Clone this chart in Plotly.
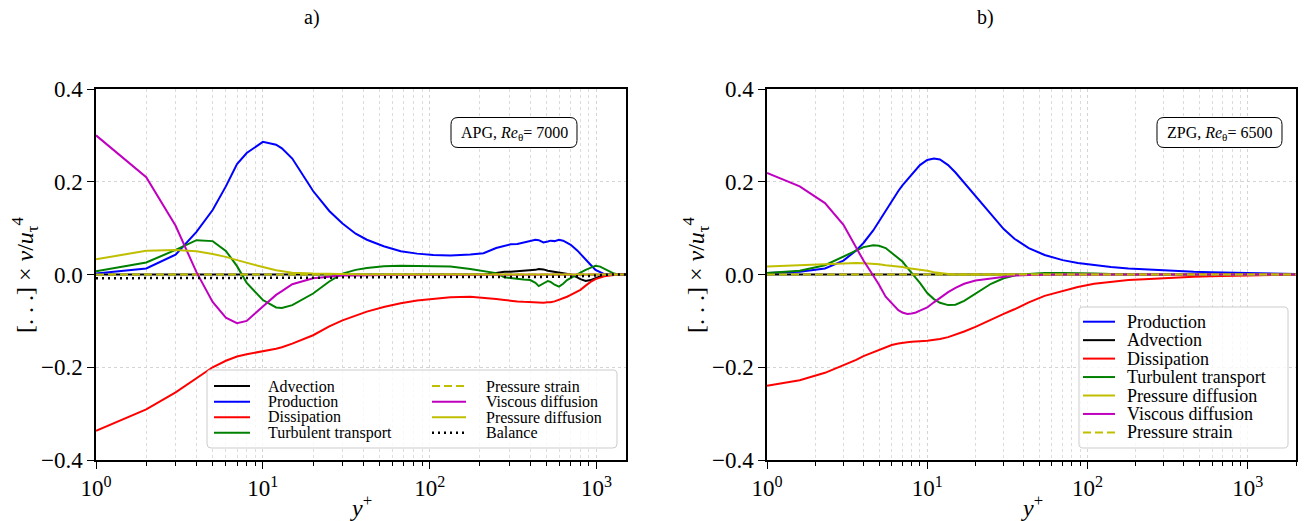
import math
import plotly.graph_objects as go

W, H = 1309, 521
FONT = "Liberation Serif"

# ---------------- APG, Re_theta = 7000 ----------------
yplus_a = [1, 2, 3, 4, 5, 6, 7, 8, 10, 12, 13, 15, 20, 25, 30, 36, 42, 53, 67, 84,
           105, 133, 175, 210, 250, 280, 305, 335, 365, 400, 430, 450, 480, 510, 530,
           560, 595, 630, 665, 700, 765, 800, 860, 920, 985, 1050, 1110, 1200, 1270,
           1350, 1500]

advection_a = [0.0, 0.0, 0.001, 0.001, 0.001, 0.001, 0.001, 0.001, 0.001, 0.001, 0.001,
               0.001, 0.001, 0.0, 0.0, 0.0, 0.0, 0.0, 0.0, 0.0,
               0.0, 0.0, 0.0, 0.0, 0.003, 0.006, 0.006, 0.007, 0.008, 0.009, 0.010,
               0.012, 0.011, 0.008, 0.007, 0.006, 0.004, 0.003, 0.001, 0.0, -0.006,
               -0.010, -0.014, -0.012, -0.008, -0.004, -0.001, 0.0, 0.0, 0.0, 0.0]

production_a = [0.002, 0.013, 0.043, 0.092, 0.139, 0.190, 0.238, 0.262, 0.286, 0.280,
                0.272, 0.250, 0.180, 0.137, 0.110, 0.088, 0.075, 0.061, 0.050, 0.045,
                0.042, 0.041, 0.043, 0.046, 0.057, 0.062, 0.065, 0.066, 0.069, 0.071,
                0.075, 0.074, 0.069, 0.071, 0.073, 0.072, 0.075, 0.073, 0.068, 0.064,
                0.052, 0.044, 0.032, 0.021, 0.010, 0.005, 0.001, 0.0, 0.0, 0.0, 0.0]

dissipation_a = [-0.337, -0.291, -0.254, -0.224, -0.200, -0.186, -0.177, -0.172, -0.166,
                 -0.160, -0.157, -0.149, -0.131, -0.112, -0.099, -0.088, -0.080, -0.070,
                 -0.062, -0.056, -0.052, -0.049, -0.048, -0.050, -0.053, -0.055, -0.057,
                 -0.058, -0.059, -0.060, -0.060, -0.061, -0.061, -0.060, -0.060, -0.058,
                 -0.055, -0.052, -0.048, -0.044, -0.037, -0.033, -0.024, -0.016, -0.010,
                 -0.006, -0.004, -0.002, -0.001, 0.0, 0.0]

turb_transport_a = [0.007, 0.026, 0.053, 0.074, 0.072, 0.051, 0.018, -0.018, -0.055,
                    -0.071, -0.072, -0.066, -0.041, -0.015, 0.002, 0.010, 0.014, 0.018,
                    0.019, 0.018, 0.018, 0.017, 0.012, 0.008, 0.003, -0.006, -0.008,
                    -0.010, -0.011, -0.012, -0.018, -0.025, -0.020, -0.014, -0.016,
                    -0.022, -0.026, -0.020, -0.012, -0.008, 0.000, 0.004, 0.010, 0.015,
                    0.019, 0.017, 0.013, 0.006, 0.002, 0.0, 0.0]

pressure_strain_a = [0.0] * 51

viscous_diff_a = [0.300, 0.210, 0.105, 0.005, -0.059, -0.093, -0.105, -0.100, -0.069,
                  -0.044, -0.036, -0.021, -0.008, -0.004, -0.002, -0.002, -0.001, -0.001,
                  -0.001, -0.001, -0.001, -0.001, -0.001, -0.001, -0.001, -0.001, -0.001,
                  -0.001, -0.001, -0.001, -0.001, -0.001, -0.001, -0.001, -0.001, -0.001,
                  -0.001, -0.001, -0.001, 0.0, 0.0, 0.0, 0.0, 0.0, 0.0, 0.0, 0.0, 0.0,
                  0.0, 0.0, 0.0]

pressure_diff_a = [0.033, 0.051, 0.053, 0.050, 0.044, 0.038, 0.031, 0.025, 0.016, 0.009,
                   0.007, 0.004, 0.002, 0.001, 0.0, 0.0, 0.0, 0.0, 0.0, 0.0,
                   0.0, 0.0, 0.0, 0.0, 0.0, 0.0, 0.0, 0.0, 0.0, 0.0, 0.0, 0.0, 0.0, 0.0,
                   0.0, 0.001, 0.001, 0.001, 0.001, 0.001, 0.001, 0.001, 0.001, 0.001,
                   0.001, 0.0, 0.0, 0.0, 0.0, 0.0, 0.0]

balance_a = [-0.008, -0.008, -0.008, -0.008, -0.008, -0.008, -0.008, -0.008, -0.007,
             -0.007, -0.007, -0.007, -0.007, -0.007, -0.006, -0.006, -0.006, -0.006,
             -0.006, -0.006, -0.005, -0.005, -0.005, -0.005, -0.005, -0.005, -0.005,
             -0.005, -0.005, -0.005, -0.005, -0.005, -0.005, -0.005, -0.005, -0.005,
             -0.005, -0.005, -0.005, -0.005, -0.004, -0.004, -0.003, -0.003, -0.002,
             -0.002, -0.001, 0.0, 0.0, 0.0, 0.0]

# ---------------- ZPG, Re_theta = 6500 ----------------
yplus_b = [1, 1.6, 2.3, 3, 3.6, 4, 4.6, 5, 5.5, 6, 6.6, 7, 7.5, 8, 8.5, 9, 10, 11, 12,
           13.5, 15, 17, 20, 25, 30, 35, 43, 54, 70, 87, 110, 140, 180, 226, 290, 363,
           460, 585, 750, 940, 1200, 1500, 2000]

production_b = [0.003, 0.006, 0.013, 0.030, 0.052, 0.068, 0.095, 0.115, 0.138, 0.158,
                0.180, 0.192, 0.204, 0.216, 0.226, 0.236, 0.247, 0.250, 0.248, 0.236,
                0.220, 0.198, 0.168, 0.130, 0.098, 0.077, 0.057, 0.042, 0.031, 0.025,
                0.020, 0.016, 0.013, 0.011, 0.009, 0.0075, 0.006, 0.005, 0.004, 0.003,
                0.002, 0.001, 0.001]

advection_b = [0.0] * 43

dissipation_b = [-0.240, -0.228, -0.212, -0.196, -0.184, -0.176, -0.168, -0.163, -0.157,
                 -0.152, -0.149, -0.147, -0.146, -0.145, -0.145, -0.144, -0.143, -0.141,
                 -0.139, -0.135, -0.130, -0.123, -0.113, -0.097, -0.085, -0.075, -0.060,
                 -0.046, -0.035, -0.027, -0.020, -0.016, -0.012, -0.010, -0.008, -0.006,
                 -0.005, -0.004, -0.003, -0.002, -0.0015, -0.001, -0.001]

turb_transport_b = [0.003, 0.008, 0.020, 0.039, 0.053, 0.059, 0.063, 0.062, 0.057, 0.047,
                    0.035, 0.028, 0.015, 0.002, -0.008, -0.018, -0.040, -0.053, -0.061,
                    -0.066, -0.065, -0.057, -0.042, -0.020, -0.008, -0.002, 0.001, 0.003,
                    0.003, 0.003, 0.002, 0.001, 0.0, 0.0, 0.0, 0.0, 0.0, 0.0, 0.0, 0.0,
                    0.0, 0.0, 0.0]

pressure_diff_b = [0.017, 0.020, 0.023, 0.025, 0.025, 0.024, 0.023, 0.022, 0.020, 0.019,
                   0.017, 0.016, 0.014, 0.013, 0.011, 0.010, 0.008, 0.005, 0.003, 0.001,
                   0.0, 0.0, 0.0, 0.0, 0.0, 0.0, 0.0, 0.0, 0.0, 0.0, 0.0, 0.0, 0.0, 0.0,
                   0.0, 0.0, 0.0, 0.0, 0.0, 0.0, 0.0, 0.0, 0.0]

viscous_diff_b = [0.219, 0.190, 0.154, 0.107, 0.058, 0.030, -0.002, -0.022, -0.048,
                  -0.063, -0.077, -0.082, -0.085, -0.084, -0.082, -0.078, -0.071, -0.060,
                  -0.050, -0.038, -0.029, -0.020, -0.013, -0.008, -0.004, -0.002, -0.001,
                  0.0, 0.0, 0.0, 0.0, 0.0, 0.0, 0.0, 0.0, 0.0, 0.0, 0.0, 0.0, 0.0, 0.0,
                  0.0, 0.0]

pressure_strain_b = [0.0] * 43

# drawing order (also the legend order)
series_a = [
    ("Advection", advection_a),
    ("Production", production_a),
    ("Dissipation", dissipation_a),
    ("Turbulent transport", turb_transport_a),
    ("Pressure strain", pressure_strain_a),
    ("Viscous diffusion", viscous_diff_a),
    ("Pressure diffusion", pressure_diff_a),
    ("Balance", balance_a),
]
series_b = [
    ("Production", production_b),
    ("Advection", advection_b),
    ("Dissipation", dissipation_b),
    ("Turbulent transport", turb_transport_b),
    ("Pressure diffusion", pressure_diff_b),
    ("Viscous diffusion", viscous_diff_b),
    ("Pressure strain", pressure_strain_b),
]

COLOR = {
    "Advection": "#000000", "Production": "#0000ff", "Dissipation": "#ff0000",
    "Turbulent transport": "#008000", "Pressure strain": "#bfbf00",
    "Viscous diffusion": "#bf00bf", "Pressure diffusion": "#bfbf00", "Balance": "#000000",
}
DASH = {"Pressure strain": "8px,4px", "Balance": "2px,4px"}
WIDTH = {"Balance": 2.5}

x_ticks = [1, 10, 100, 1000]
x_ticktext = ["10<sup>0</sup>", "10<sup>1</sup>", "10<sup>2</sup>", "10<sup>3</sup>"]
y_ticks = [-0.4, -0.2, 0.0, 0.2, 0.4]
y_ticktext = ["\u22120.4", "\u22120.2", "0.0", "0.2", "0.4"]
minor_x = [m * 10 ** d for d in range(4) for m in range(2, 10)]


def px_x(p):
    return p / W


def px_y(p):
    return 1 - p / H


fig = go.Figure()

for name, vals in series_a:
    fig.add_trace(go.Scatter(
        x=yplus_a, y=vals, mode="lines", name=name, showlegend=False,
        line=dict(color=COLOR[name], width=WIDTH.get(name, 2), dash=DASH.get(name, "solid")),
        xaxis="x", yaxis="y"))

for name, vals in series_b:
    fig.add_trace(go.Scatter(
        x=yplus_b, y=vals, mode="lines", name=name, showlegend=False,
        line=dict(color=COLOR[name], width=WIDTH.get(name, 2), dash=DASH.get(name, "solid")),
        xaxis="x2", yaxis="y2"))

grid = dict(showgrid=True, gridcolor="#d4d4d4", griddash="dot", gridwidth=1)
common_x = dict(
    type="log", tickvals=x_ticks, ticktext=x_ticktext, ticks="outside", ticklen=7,
    tickwidth=1.2, tickcolor="black", showline=True, linecolor="black", linewidth=1.5,
    mirror=True, zeroline=False, automargin=False,
    tickfont=dict(family=FONT, size=23, color="black"),
    minor=dict(tickvals=minor_x, ticks="outside", ticklen=4, tickwidth=1,
               tickcolor="black", showgrid=True, gridcolor="#dcdcdc", griddash="dot",
               gridwidth=1),
    **grid)
common_y = dict(
    range=[-0.4, 0.4], tickvals=y_ticks, ticktext=y_ticktext, ticks="outside",
    ticklen=7, tickwidth=1.2, tickcolor="black", showline=True, linecolor="black",
    linewidth=1.5, mirror=True, zeroline=False, automargin=False,
    tickfont=dict(family=FONT, size=23, color="black"), **grid)

fig.update_layout(
    width=W, height=H, autosize=False,
    margin=dict(l=0, r=0, t=0, b=0),
    paper_bgcolor="white", plot_bgcolor="white",
    showlegend=False,
    xaxis=dict(domain=[px_x(96), px_x(626)], range=[0, math.log10(1500)], anchor="y",
               **common_x),
    yaxis=dict(domain=[px_y(460), px_y(89)], anchor="x", **common_y),
    xaxis2=dict(domain=[px_x(767), px_x(1296)], range=[0, math.log10(2000)], anchor="y2",
                **common_x),
    yaxis2=dict(domain=[px_y(460), px_y(89)], anchor="x2", **common_y),
)


def rounded_rect(x0, y0, x1, y1, r):
    """Closed SVG path (paper coords) for a rectangle given in pixels."""
    pts = [
        ("M", [(x0 + r, y0)]), ("L", [(x1 - r, y0)]), ("Q", [(x1, y0), (x1, y0 + r)]),
        ("L", [(x1, y1 - r)]), ("Q", [(x1, y1), (x1 - r, y1)]), ("L", [(x0 + r, y1)]),
        ("Q", [(x0, y1), (x0, y1 - r)]), ("L", [(x0, y0 + r)]),
        ("Q", [(x0, y0), (x0 + r, y0)]),
    ]
    parts = []
    for cmd, coords in pts:
        parts.append(cmd + " ".join(f"{px_x(a):.5f},{px_y(b):.5f}" for a, b in coords))
    return " ".join(parts) + " Z"


shapes = []
annotations = []

# case labels
for (bx0, by0, bx1, by1), text in [
    ((451, 117.5, 577, 147.5), "APG, <i>Re</i><sub>\u03b8</sub>= 7000"),
    ((1157, 117.5, 1282, 147.5), "ZPG, <i>Re</i><sub>\u03b8</sub>= 6500"),
]:
    shapes.append(dict(type="path", xref="paper", yref="paper",
                       path=rounded_rect(bx0, by0, bx1, by1, 7),
                       line=dict(color="black", width=1), fillcolor="white", layer="above"))
    annotations.append(dict(xref="paper", yref="paper", x=px_x((bx0 + bx1) / 2),
                            y=px_y((by0 + by1) / 2 + 1), text=text, showarrow=False,
                            xanchor="center", yanchor="middle",
                            font=dict(family=FONT, size=16, color="black")))


def legend_entry(name, hx0, hx1, tx, row_y, size):
    shapes.append(dict(type="line", xref="paper", yref="paper",
                       x0=px_x(hx0), x1=px_x(hx1), y0=px_y(row_y), y1=px_y(row_y),
                       line=dict(color=COLOR[name], width=WIDTH.get(name, 2),
                                 dash=DASH.get(name, "solid")), layer="above"))
    annotations.append(dict(xref="paper", yref="paper", x=px_x(tx), y=px_y(row_y),
                            text=name, showarrow=False, xanchor="left", yanchor="middle",
                            font=dict(family=FONT, size=size, color="black")))


# legend of the APG panel: two columns
shapes.append(dict(type="path", xref="paper", yref="paper",
                   path=rounded_rect(207, 370, 617, 448, 4),
                   line=dict(color="#cccccc", width=1), fillcolor="rgba(255,255,255,0.8)",
                   layer="above"))
rows_a = [386, 401.7, 417.3, 432.7]
for i, (name, _) in enumerate(series_a):
    col, row = divmod(i, 4)
    if col == 0:
        legend_entry(name, 214, 250, 266, rows_a[row], 16)
    else:
        legend_entry(name, 432, 466, 484, rows_a[row], 16)

# legend of the ZPG panel: one column
shapes.append(dict(type="path", xref="paper", yref="paper",
                   path=rounded_rect(1079, 307, 1288, 448, 4),
                   line=dict(color="#cccccc", width=1), fillcolor="rgba(255,255,255,0.8)",
                   layer="above"))
for i, (name, _) in enumerate(series_b):
    legend_entry(name, 1083, 1115, 1125, 321.7 + i * 18.45, 18)

# panel titles and axis titles
for cx, label in [(312, "a)"), (985, "b)")]:
    annotations.append(dict(xref="paper", yref="paper", x=px_x(cx), y=px_y(17),
                            text=label, showarrow=False, xanchor="center",
                            yanchor="middle", font=dict(family=FONT, size=20, color="black")))
for cx in [361, 1031.5]:
    annotations.append(dict(xref="paper", yref="paper", x=px_x(cx), y=px_y(506),
                            text="<i>y</i><sup>+</sup>", showarrow=False, xanchor="center",
                            yanchor="middle", font=dict(family=FONT, size=24, color="black")))
for cx in [25, 696]:
    annotations.append(dict(xref="paper", yref="paper", x=px_x(cx), y=px_y(275),
                            text="[. . .] \u00d7 <i>\u03bd</i>/<i>u</i><sub>\u03c4</sub><sup>4</sup>",
                            textangle=-90, showarrow=False, xanchor="center",
                            yanchor="middle", font=dict(family=FONT, size=24, color="black")))

fig.update_layout(shapes=shapes, annotations=annotations)
fig.write_html("out.html")
